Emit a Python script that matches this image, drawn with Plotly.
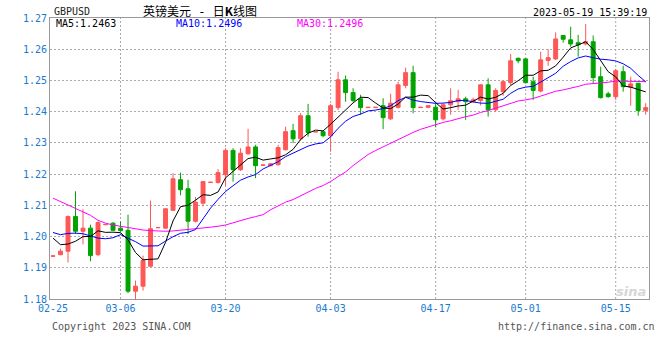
import plotly.graph_objects as go
import pandas as pd

# ---------------- data ----------------
dates = [
    "02-25", "02-26", "02-27", "02-28",
    "03-01", "03-02", "03-03", "03-04", "03-05", "03-06", "03-07", "03-08", "03-09", "03-10",
    "03-11", "03-12", "03-13", "03-14", "03-15", "03-16", "03-17", "03-18", "03-19", "03-20",
    "03-21", "03-22", "03-23", "03-24", "03-25", "03-26", "03-27", "03-28", "03-29", "03-30",
    "03-31",
    "04-01", "04-02", "04-03", "04-04", "04-05", "04-06", "04-07", "04-08", "04-09", "04-10",
    "04-11", "04-12", "04-13", "04-14", "04-15", "04-16", "04-17",
    "04-18", "04-19", "04-20", "04-21", "04-22", "04-24", "04-25", "04-26", "04-27", "04-28",
    "04-29", "05-01",
    "05-02", "05-03", "05-04", "05-05", "05-06", "05-08", "05-09", "05-10", "05-11", "05-12",
    "05-13", "05-15",
    "05-16", "05-17", "05-18", "05-19",
]

opens = [
    1.1937, 1.1942, 1.1953, 1.2064, 1.2017, 1.2027, 1.1942, 1.2038, 1.2043, 1.2027,
    1.2020, 1.1825, 1.1841, 1.1905, 1.2028, 1.2027, 1.2084, 1.2182, 1.2153, 1.2049,
    1.2107, 1.2173, 1.2173, 1.2198, 1.2276, 1.2214, 1.2265, 1.2287, 1.2228, 1.2227,
    1.2230, 1.2278, 1.2339, 1.2313, 1.2387, 1.2335, 1.2336, 1.2323, 1.2413, 1.2502,
    1.2461, 1.2441, 1.2413, 1.2413, 1.2419, 1.2377, 1.2414, 1.2484, 1.2525, 1.2413,
    1.2414, 1.2414, 1.2377, 1.2422, 1.2432, 1.2441, 1.2432, 1.2436, 1.2486, 1.2406,
    1.2464, 1.2493, 1.2571, 1.2569, 1.2496, 1.2466, 1.2564, 1.2569, 1.2644, 1.2630,
    1.2621, 1.2617, 1.2624, 1.2512, 1.2457, 1.2448, 1.2528, 1.2478, 1.2491, 1.2404,
]
highs = [
    1.1939, 1.1961, 1.2068, 1.2145, 1.2088, 1.2038, 1.2049, 1.2040, 1.2046, 1.2049,
    1.2070, 1.1859, 1.1939, 1.2115, 1.2030, 1.2090, 1.2203, 1.2205, 1.2182, 1.2127,
    1.2178, 1.2175, 1.2216, 1.2283, 1.2283, 1.2283, 1.2345, 1.2294, 1.2230, 1.2235,
    1.2294, 1.2352, 1.2361, 1.2395, 1.2425, 1.2337, 1.2338, 1.2425, 1.2528, 1.2516,
    1.2475, 1.2454, 1.2415, 1.2415, 1.2443, 1.2457, 1.2496, 1.2541, 1.2547, 1.2415,
    1.2421, 1.2427, 1.2427, 1.2475, 1.2470, 1.2448, 1.2445, 1.2488, 1.2507, 1.2475,
    1.2500, 1.2585, 1.2573, 1.2571, 1.2512, 1.2592, 1.2600, 1.2654, 1.2645, 1.2672,
    1.2646, 1.2681, 1.2644, 1.2544, 1.2464, 1.2537, 1.2547, 1.2512, 1.2492, 1.2427,
]
lows = [
    1.1936, 1.1940, 1.1917, 1.2008, 1.1975, 1.1921, 1.1937, 1.2037, 1.2018, 1.2015,
    1.1819, 1.1800, 1.1827, 1.1903, 1.2027, 1.2025, 1.2084, 1.2132, 1.2008, 1.2045,
    1.2097, 1.2172, 1.2170, 1.2163, 1.2176, 1.2210, 1.2262, 1.2187, 1.2227, 1.2225,
    1.2228, 1.2276, 1.2299, 1.2308, 1.2320, 1.2334, 1.2318, 1.2272, 1.2405, 1.2432,
    1.2430, 1.2390, 1.2412, 1.2412, 1.2344, 1.2373, 1.2410, 1.2475, 1.2395, 1.2412,
    1.2411, 1.2350, 1.2372, 1.2390, 1.2406, 1.2374, 1.2428, 1.2420, 1.2384, 1.2400,
    1.2451, 1.2485, 1.2555, 1.2490, 1.2438, 1.2462, 1.2547, 1.2565, 1.2621, 1.2608,
    1.2576, 1.2612, 1.2491, 1.2442, 1.2445, 1.2438, 1.2464, 1.2419, 1.2387, 1.2390,
]
closes = [
    1.1938, 1.1953, 1.2064, 1.2017, 1.2027, 1.1939, 1.2045, 1.2039, 1.2020, 1.2019,
    1.1825, 1.1841, 1.1923, 1.2025, 1.2029, 1.2089, 1.2185, 1.2150, 1.2049, 1.2110,
    1.2176, 1.2174, 1.2205, 1.2276, 1.2214, 1.2267, 1.2287, 1.2227, 1.2229, 1.2233,
    1.2285, 1.2336, 1.2313, 1.2387, 1.2333, 1.2336, 1.2323, 1.2419, 1.2502, 1.2461,
    1.2436, 1.2413, 1.2414, 1.2414, 1.2381, 1.2427, 1.2486, 1.2525, 1.2413, 1.2414,
    1.2419, 1.2374, 1.2422, 1.2435, 1.2441, 1.2432, 1.2438, 1.2486, 1.2406, 1.2468,
    1.2496, 1.2563, 1.2563, 1.2493, 1.2468, 1.2566, 1.2573, 1.2633, 1.2632, 1.2617,
    1.2614, 1.2624, 1.2509, 1.2445, 1.2448, 1.2531, 1.2480, 1.2489, 1.2404, 1.2413,
]

# moving-average values at the left edge (their windows start before 02-25)
ma5_head = [1.1995, 1.1974, 1.1976, 1.1985]
ma10_head = [1.2013, 1.2006, 1.2010, 1.2011, 1.2009, 1.2001, 1.1995, 1.1993, 1.1996]
ma30_head = [1.2123, 1.2112, 1.2102, 1.2092, 1.2080, 1.2068, 1.2052, 1.2043, 1.2037, 1.2033,
             1.2029, 1.2024, 1.2021, 1.2019, 1.2017, 1.2017, 1.2018, 1.2020, 1.2022, 1.2024,
             1.2027, 1.2030, 1.2033, 1.2037, 1.2044, 1.2052, 1.2058, 1.2064, 1.2070]

tick_dates = ["02-25", "03-06", "03-20", "04-03", "04-17", "05-01", "05-15"]
y_ticks = [1.18, 1.19, 1.20, 1.21, 1.22, 1.23, 1.24, 1.25, 1.26, 1.27]

symbol = "GBPUSD"
title_left = "英镑美元"
title_right = "日K线图"
stamp = "2023-05-19 15:39:19"
copyright_text = "Copyright 2023 SINA.COM"
url_text = "http://finance.sina.com.cn"


def moving_average(n, head):
    s = pd.Series(closes).rolling(n).mean().tolist()
    return head + s[len(head):]


ma5 = moving_average(5, ma5_head)
ma10 = moving_average(10, ma10_head)
ma30 = moving_average(30, ma30_head)

# ---------------- styling ----------------
RED = "#ff5656"
GREEN = "#00a300"
TICK_BLUE = "#1a7acc"
GRID = "#aaaaaa"
FRAME = "#999999"
MONO = "DejaVu Sans Mono"

W, H = 660, 360
L, R, T, B = 50, 11, 18, 61
PW, PH = W - L - R, H - T - B


def px(x):
    return (x - L) / PW


def py(y):
    return (H - B - y) / PH


fig = go.Figure()
fig.add_trace(go.Candlestick(
    x=dates, open=opens, high=highs, low=lows, close=closes,
    increasing=dict(line=dict(color=RED, width=1), fillcolor=RED),
    decreasing=dict(line=dict(color=GREEN, width=1), fillcolor=GREEN),
    whiskerwidth=0, showlegend=False, hoverinfo="skip",
))
for vals, col in ((ma30, "#ff00ff"), (ma10, "#0000ff"), (ma5, "#000000")):
    fig.add_trace(go.Scatter(x=dates, y=vals, mode="lines",
                             line=dict(color=col, width=1),
                             showlegend=False, hoverinfo="skip"))

# vertical dotted grid lines at the labelled dates (not at the left edge)
for d in tick_dates[1:]:
    fig.add_shape(type="line", xref="x", yref="paper", x0=d, x1=d, y0=0, y1=1,
                  line=dict(color=GRID, width=1, dash="2px,2px"), layer="below")

title_html = (title_left
              + "<span style=\"font-family:'DejaVu Sans Mono'\"> - </span>"
              + title_right.replace("K", "<b>K</b>"))

annots = [
    dict(text=symbol, x=px(52), y=py(11.5), xanchor="left", yanchor="middle",
         font=dict(family=MONO, size=10, color="#222222")),
    dict(text=title_html, x=px(200), y=py(10), xanchor="center", yanchor="middle",
         font=dict(family="Noto Sans CJK SC", size=12, color="#000000")),
    dict(text=stamp, x=px(649), y=py(12), xanchor="right", yanchor="middle",
         font=dict(family=MONO, size=10, color="#000000")),
    dict(text="MA5:%.4f" % ma5[-1], x=px(54), y=py(23.7), xanchor="left", yanchor="middle",
         font=dict(family=MONO, size=10, color="#000000")),
    dict(text="MA10:%.4f" % ma10[-1], x=px(174), y=py(23.7), xanchor="left", yanchor="middle",
         font=dict(family=MONO, size=10, color="#0000ff")),
    dict(text="MA30:%.4f" % ma30[-1], x=px(295), y=py(23.7), xanchor="left", yanchor="middle",
         font=dict(family=MONO, size=10, color="#ff00ff")),
    dict(text=copyright_text, x=px(50), y=py(326), xanchor="left", yanchor="middle",
         font=dict(family=MONO, size=10, color="#555555")),
    dict(text=url_text, x=px(657), y=py(326), xanchor="right", yanchor="middle",
         font=dict(family=MONO, size=10, color="#555555")),
    dict(text="<b><i>sina</i></b>", x=px(648), y=py(291), xanchor="right", yanchor="middle",
         font=dict(family="DejaVu Sans", size=13, color="#d6d6d6")),
]
for a in annots:
    a.update(xref="paper", yref="paper", showarrow=False)

fig.update_layout(
    width=W, height=H,
    margin=dict(l=L, r=R, t=T, b=B, pad=0),
    paper_bgcolor="white", plot_bgcolor="white",
    boxgap=0.25,
    annotations=annots,
    xaxis=dict(
        type="category", categoryorder="array", categoryarray=dates,
        range=[-0.4, len(dates) - 1 + 0.44],
        tickmode="array", tickvals=tick_dates, ticktext=tick_dates,
        showgrid=False, zeroline=False, ticks="",
        showline=True, linecolor=FRAME, linewidth=1, mirror=True,
        tickfont=dict(family=MONO, size=10, color=TICK_BLUE),
        rangeslider=dict(visible=False), fixedrange=True,
    ),
    yaxis=dict(
        range=[y_ticks[0], y_ticks[-1]],
        tickmode="array", tickvals=y_ticks, tickformat=".2f",
        showgrid=True, gridcolor=GRID, gridwidth=1, griddash="2px,2px",
        zeroline=False, ticks="",
        showline=True, linecolor=FRAME, linewidth=1, mirror=True,
        tickfont=dict(family=MONO, size=10, color=TICK_BLUE),
        fixedrange=True,
    ),
)

fig.write_html("out.html", config={"displayModeBar": False})
